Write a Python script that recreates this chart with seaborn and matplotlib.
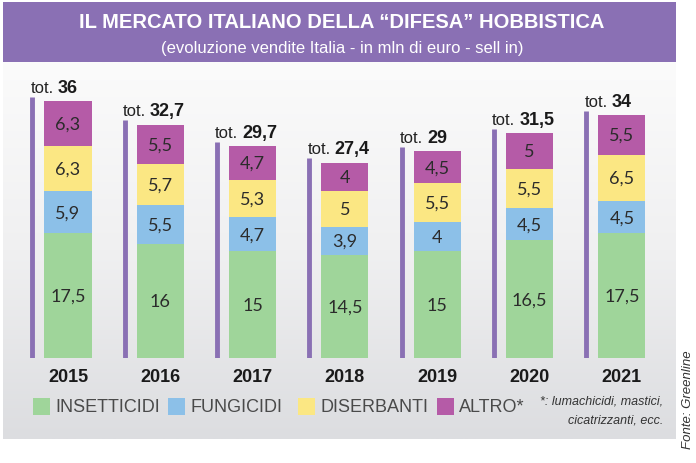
import numpy as np
import pandas as pd
import matplotlib
matplotlib.use("Agg")
import matplotlib.pyplot as plt
from matplotlib.patches import Rectangle
import seaborn as sns

# ── Data ─────────────────────────────────────────────────────────────────────
years = ["2015", "2016", "2017", "2018", "2019", "2020", "2021"]
insetticidi = [17.5, 16, 15, 14.5, 15, 16.5, 17.5]
fungicidi = [5.9, 5.5, 4.7, 3.9, 4, 4.5, 4.5]
diserbanti = [6.3, 5.7, 5.3, 5, 5.5, 5.5, 6.5]
altro = [6.3, 5.5, 4.7, 4, 4.5, 5, 5.5]
totali = ["36", "32,7", "29,7", "27,4", "29", "31,5", "34"]

labels = ["INSETTICIDI", "FUNGICIDI", "DISERBANTI", "ALTRO*"]
colors = ["#9fd59a", "#8cc0e8", "#fbe783", "#b55ba7"]
PURPLE = "#8a70b4"

sns.set_theme(style="white")
NARROW = ["Liberation Sans", "DejaVu Sans"]
SEG = ["Lato", "DejaVu Sans"]
plt.rcParams["font.family"] = NARROW

W, H = 696, 464
fig = plt.figure(figsize=(W / 100, H / 100), dpi=100)
fig.patch.set_facecolor("white")


def fx(x):
    return x / W


def fy(y):
    return 1 - y / H


# ── Gradient panel ──────────────────────────────────────────────────────────
bg = fig.add_axes([fx(3), fy(440), fx(673), (440 - 63) / H])
grad = np.linspace(0, 1, 256).reshape(-1, 1)
cmap = matplotlib.colors.LinearSegmentedColormap.from_list("g", ["#fbfbfb", "#f0f0f1", "#dcdde0"])
bg.imshow(grad, aspect="auto", cmap=cmap, extent=[0, 1, 0, 1], origin="upper")
bg.set_axis_off()

# ── Title banner ─────────────────────────────────────────────────────────────
fig.patches.append(Rectangle((fx(3), fy(63)), fx(673), 60 / H, transform=fig.transFigure,
                             facecolor=PURPLE, edgecolor="none", zorder=0))
fig.text(fx(342), fy(22), "IL MERCATO ITALIANO DELLA \u201cDIFESA\u201d HOBBISTICA",
         ha="center", va="center", color="white", fontsize=14.5, fontweight="bold")
fig.text(fx(342), fy(48), "(evoluzione vendite Italia - in mln di euro - sell in)",
         ha="center", va="center", color="white", fontsize=12)

# ── Stacked bars ─────────────────────────────────────────────────────────────
ax = fig.add_axes([fx(3), fy(359), fx(673), (359 - 63) / H])
ax.patch.set_alpha(0)

df = pd.DataFrame({"year": years, "INSETTICIDI": insetticidi, "FUNGICIDI": fungicidi,
                   "DISERBANTI": diserbanti, "ALTRO*": altro})
cum = df[labels].cumsum(axis=1)

BW = 0.51
for lab, col in reversed(list(zip(labels, colors))):
    sns.barplot(data=cum, x=df["year"], y=cum[lab], color=col, width=BW,
                saturation=1, ax=ax, linewidth=0)

for i in range(len(years)):
    bottom = 0
    for lab in labels:
        v = df[lab].iloc[i]
        txt = f"{v:g}".replace(".", ",")
        ax.text(i, bottom + v / 2, txt, ha="center", va="center", fontsize=13,
                color="#2b2b2b", family=SEG)
        bottom += v

tot_vals = cum["ALTRO*"].values
line_x = np.arange(len(years)) - BW / 2 - 0.13
ax.vlines(line_x, 0, tot_vals + 0.65, color=PURPLE, linewidth=3.5)

ax.set_xlim(-0.704, 6.587)
ax.set_ylim(0, 41.5)
ax.set_axis_off()

tot_texts = []
for i, t in enumerate(tot_vals):
    tt = ax.text(line_x[i] - 0.02, t + 1.35, "tot.", ha="left", va="baseline",
                 fontsize=12, color="#222222")
    tot_texts.append(tt)

fig.canvas.draw()
renderer = fig.canvas.get_renderer()
for i, tt in enumerate(tot_texts):
    bb = tt.get_window_extent(renderer)
    x_disp = bb.x1 + 4
    y_disp = ax.transData.transform((0, tot_vals[i] + 1.35))[1]
    fig.text(x_disp / W, y_disp / H, totali[i], ha="left", va="baseline",
             fontsize=13, fontweight="bold", color="#1a1a1a")

# year labels
for i, y in enumerate(years):
    xd = ax.transData.transform((i, 0))[0]
    fig.text(xd / W, fy(378), y, ha="center", va="center", fontsize=13,
             fontweight="bold", color="#1a1a1a")

# ── Legend ───────────────────────────────────────────────────────────────────
sq_x = [33, 168, 298, 437]
for x0, lab, col in zip(sq_x, labels, colors):
    fig.patches.append(Rectangle((fx(x0), fy(416)), 17 / W, 17 / H,
                                 transform=fig.transFigure, facecolor=col, edgecolor="none"))
    fig.text(fx(x0 + 22), fy(407), lab, ha="left", va="center", fontsize=13,
             color="#4a4a4a")

fig.text(fx(663), fy(402), "*: lumachicidi, mastici,", ha="right", va="center",
         fontsize=9, style="italic", color="#333333")
fig.text(fx(663), fy(421), "cicatrizzanti, ecc.", ha="right", va="center",
         fontsize=9, style="italic", color="#333333")
fig.text(fx(688), fy(400), "Fonte: Greenline", ha="center", va="center",
         rotation=90, fontsize=9.5, style="italic", color="#333333")

fig.savefig("out.png", dpi=100)
